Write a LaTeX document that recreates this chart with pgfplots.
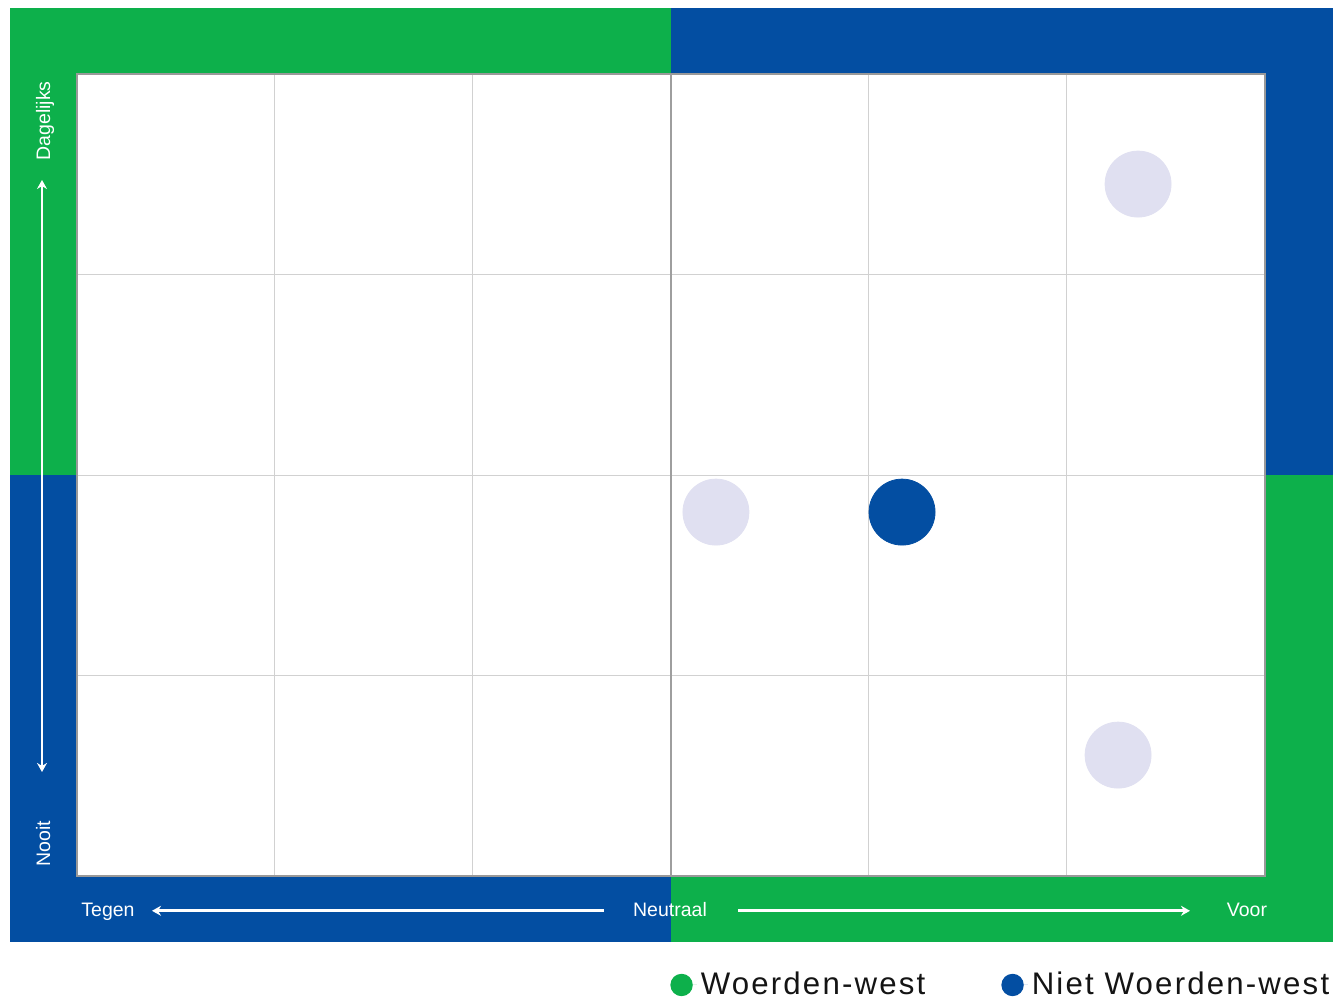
\documentclass[border=0pt]{standalone}
\usepackage{pgfplots}
\pgfplotsset{compat=1.18}
\usepackage{fontspec}
\setmainfont{Liberation Sans}
\newfontfamily\legfont[LetterSpace=7]{Liberation Sans}
\usetikzlibrary{arrows.meta}
\definecolor{wgreen}{HTML}{0DB04B}
\definecolor{wblue}{HTML}{034EA2}
\definecolor{wlav}{HTML}{E0E0F1}
\begin{document}
\begin{tikzpicture}
\path (0pt,0pt) rectangle (667.5pt,501pt);
\fill[wgreen] (5pt,263.5pt) rectangle (335.5pt,497pt);
\fill[wblue] (335.5pt,263.5pt) rectangle (666.5pt,497pt);
\fill[wblue] (5pt,30pt) rectangle (335.5pt,263.5pt);
\fill[wgreen] (335.5pt,30pt) rectangle (666.5pt,263.5pt);
\begin{axis}[
  at={(38.5pt,63pt)}, anchor=south west,
  scale only axis, width=594pt, height=401pt,
  xmin=-3, xmax=3, ymin=-2, ymax=2,
  xtick={-2,-1,0,1,2}, ytick={-1,0,1},
  xticklabels={}, yticklabels={},
  major tick length=0pt,
  grid=major, grid style={draw=black!18, line width=0.5pt},
  axis line style={draw=black!40, line width=0.75pt},
  axis background/.style={fill=white},
  clip=false,
  legend image code/.code={\fill[#1,draw=none] (5.6pt,0pt) circle (5.6pt); \path[draw=none] (0pt,0pt) -- (13.2pt,0pt);},
  legend style={at={(1.0578,-0.1359)}, anchor=east, draw=none, fill=none,
    inner sep=0pt, legend columns=2,
    font=\legfont\fontsize{15.6}{18}\selectfont, text=black!92,
    nodes={inner sep=2pt},
    /tikz/every even column/.append style={column sep=36pt}},
  legend cell align=left,
]
\draw[black!38, line width=0.6pt] (axis cs:0,-2) -- (axis cs:0,2);
\addplot[only marks, mark=*, mark size=16.5pt, color=wlav, forget plot]
  coordinates {(2.359,1.451) (0.227,-0.185) (2.258,-1.397)};
\addplot[only marks, mark=*, mark size=16.5pt, color=wblue, forget plot]
  coordinates {(1.167,-0.185)};
\addlegendimage{fill=wgreen}
\addlegendentry{Woerden-west}
\addlegendimage{fill=wblue}
\addlegendentry{Niet Woerden-west}
\end{axis}
\draw[white, line width=1.4pt, {Stealth[length=4.5pt,width=5pt]}-{Stealth[length=4.5pt,width=5pt]}] (21pt,115pt) -- (21pt,411pt);
\draw[white, line width=1.4pt, {Stealth[length=4.5pt,width=5pt]}-] (76pt,45.6pt) -- (302pt,45.6pt);
\draw[white, line width=1.4pt, -{Stealth[length=4.5pt,width=5pt]}] (369pt,45.6pt) -- (595pt,45.6pt);
\begin{scope}[every node/.style={text=white, font=\fontsize{9.75}{12}\selectfont, inner sep=0pt}]
\node[rotate=90, anchor=base] at (25pt,440.5pt) {Dagelijks};
\node[rotate=90, anchor=base] at (25pt,79pt) {Nooit};
\node[anchor=base] at (54pt,42.6pt) {Tegen};
\node[anchor=base] at (335pt,42.6pt) {Neutraal};
\node[anchor=base] at (623.5pt,42.6pt) {Voor};
\end{scope}
\end{tikzpicture}
\end{document}
